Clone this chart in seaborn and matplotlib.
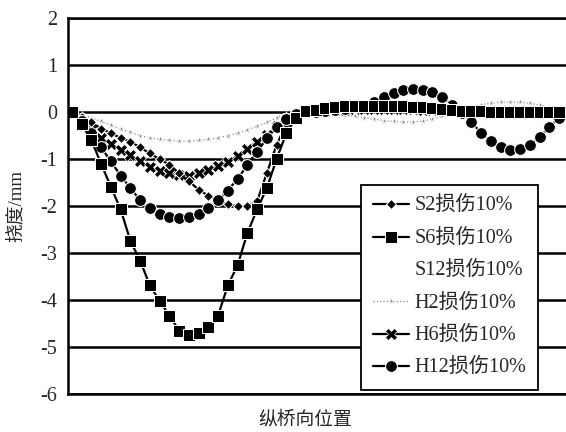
import matplotlib
matplotlib.use("Agg")
import matplotlib.pyplot as plt
import numpy as np
import seaborn as sns

# deflection (mm) at each longitudinal node
s2 = [0, -0.1, -0.22, -0.35, -0.45, -0.55, -0.63, -0.75, -0.88, -1.0, -1.12, -1.3, -1.47, -1.65, -1.78, -1.88, -1.96, -2.0, -2.0, -1.9, -1.3, -0.7, -0.25, -0.05, 0.0,
      0.03, 0.05, 0.07, 0.09, 0.1, 0.11, 0.11, 0.11, 0.1, 0.1, 0.09, 0.08, 0.07, 0.06, 0.04, 0.03, 0.03, 0.03, 0.03, 0.03, 0.03, 0.03, 0.02, 0.02, 0.02, 0.02]
s6 = [0, -0.25, -0.6, -1.1, -1.59, -2.07, -2.74, -3.16, -3.69, -4.02, -4.33, -4.65, -4.75, -4.71, -4.58, -4.33, -3.69, -3.26, -2.58, -2.07, -1.62, -1.0, -0.45, -0.12, 0.02,
      0.05, 0.08, 0.1, 0.12, 0.13, 0.14, 0.14, 0.14, 0.13, 0.12, 0.11, 0.1, 0.09, 0.07, 0.05, 0.03, 0.02, 0.02, 0.01, 0.01, 0.01, 0.01, 0.01, 0.01, 0.0, 0.0]
s12 = [0, -0.15, -0.35, -0.6, -0.85, -1.1, -1.3, -1.45, -1.55, -1.6, -1.6, -1.55, -1.45, -1.3, -1.1, -0.9, -0.7, -0.5, -0.32, -0.18, -0.08, -0.02, 0.0, 0.0, 0.0,
       0.02, 0.05, 0.1, 0.15, 0.2, 0.25, 0.28, 0.3, 0.3, 0.28, 0.25, 0.2, 0.12, 0.04, -0.05, -0.15, -0.3, -0.45, -0.55, -0.6, -0.58, -0.5, -0.38, -0.25, -0.12, -0.04]
h2 = [0, -0.05, -0.12, -0.2, -0.28, -0.36, -0.43, -0.5, -0.55, -0.58, -0.6, -0.62, -0.62, -0.6, -0.58, -0.55, -0.5, -0.45, -0.38, -0.3, -0.22, -0.12, -0.05, -0.02, 0.0,
      0.0, -0.02, -0.04, -0.06, -0.09, -0.12, -0.15, -0.18, -0.2, -0.21, -0.21, -0.19, -0.15, -0.09, -0.02, 0.05, 0.11, 0.16, 0.19, 0.21, 0.22, 0.21, 0.19, 0.15, 0.1, 0.06]
h6 = [0, -0.2, -0.38, -0.55, -0.68, -0.8, -0.92, -1.05, -1.17, -1.26, -1.3, -1.33, -1.35, -1.3, -1.24, -1.15, -1.07, -0.93, -0.78, -0.63, -0.48, -0.3, -0.14, -0.04, 0.0,
      0.02, 0.03, 0.04, 0.05, 0.06, 0.06, 0.07, 0.07, 0.07, 0.06, 0.06, 0.05, 0.05, 0.04, 0.03, 0.02, 0.02, 0.02, 0.02, 0.02, 0.02, 0.02, 0.02, 0.01, 0.01, 0.01]
h12 = [0, -0.2, -0.45, -0.75, -1.05, -1.35, -1.62, -1.87, -2.05, -2.17, -2.24, -2.26, -2.24, -2.16, -2.05, -1.88, -1.67, -1.42, -1.13, -0.84, -0.56, -0.32, -0.14, -0.04, 0.0,
       0.01, 0.02, 0.04, 0.07, 0.11, 0.16, 0.22, 0.32, 0.41, 0.47, 0.49, 0.48, 0.43, 0.32, 0.15, -0.02, -0.22, -0.44, -0.62, -0.75, -0.81, -0.79, -0.69, -0.53, -0.32, -0.12]

labels = ["S2损伤10%", "S6损伤10%", "S12损伤10%", "H2损伤10%", "H6损伤10%", "H12损伤10%"]
yticks = [2, 1, 0, -1, -2, -3, -4, -5, -6]

pos = np.arange(len(s2))

sns.set_style("white")
plt.rcParams["font.family"] = ["Liberation Serif", "Noto Sans CJK SC"]
plt.rcParams["axes.unicode_minus"] = False

fig = plt.figure(figsize=(5.66, 4.32), dpi=100)
ax = fig.add_axes([0.121, 0.088, 0.879, 0.87])

ax.yaxis.grid(True, color="black", lw=1.8)
ax.set_axisbelow(True)

sns.lineplot(x=pos, y=s12, ax=ax, label=labels[2], linestyle="none", color="white")
sns.lineplot(x=pos, y=h2, ax=ax, label=labels[3], color="#8a8a8a", lw=0.9, linestyle=":",
             marker="*", markersize=5, markeredgewidth=0.4)
sns.lineplot(x=pos, y=h6, ax=ax, label=labels[4], color="black", lw=1.6,
             marker="X", markersize=8, markeredgewidth=0.5)
sns.lineplot(x=pos, y=s2, ax=ax, label=labels[0], color="black", lw=1.6,
             marker="D", markersize=5.5)
sns.lineplot(x=pos, y=h12, ax=ax, label=labels[5], color="black", lw=1.6,
             marker="o", markersize=8.5)
sns.lineplot(x=pos, y=s6, ax=ax, label=labels[1], color="black", lw=1.6,
             marker="s", markersize=8)

ax.set_xlim(-0.35, 50.7)
ax.set_ylim(-6, 2)
ax.set_yticks(yticks)
ax.set_yticklabels([str(v) for v in yticks], fontsize=14.5)
ax.set_xticks([])
ax.tick_params(axis="y", length=0, pad=8)

for side in ["left", "bottom", "top"]:
    ax.spines[side].set_color("black")
    ax.spines[side].set_linewidth(1.8)
ax.spines["right"].set_visible(False)

ax.set_ylabel("挠度/mm", fontsize=13.5)
ax.yaxis.set_label_coords(-0.088, 0.5)
ax.set_xlabel("纵桥向位置", fontsize=13.5)
ax.xaxis.set_label_coords(0.475, -0.045)

handles, labs = ax.get_legend_handles_labels()
order = [labs.index(l) for l in labels]
leg = ax.legend([handles[i] for i in order], [labs[i] for i in order],
                loc="lower left", bbox_to_anchor=(0.588, 0.01),
                fontsize=14.5, frameon=True, fancybox=False, framealpha=1,
                edgecolor="black", handlelength=1.8, labelspacing=0.66,
                borderpad=0.6, handletextpad=0.25, borderaxespad=0)
leg.get_frame().set_linewidth(1.3)

fig.savefig("out.png", dpi=100)
